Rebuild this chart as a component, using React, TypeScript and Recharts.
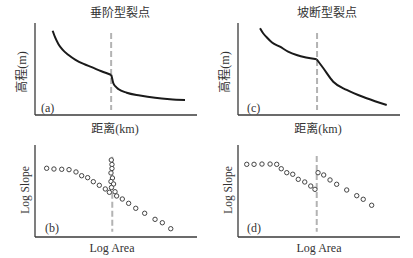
import React from "react";
import {
    ComposedChart,
    Line,
    Scatter,
    XAxis,
    YAxis,
    ReferenceLine
} from "recharts";

// Panel (a): long profile with a vertical-step knickpoint
const aUpperX = [10.9, 12.5, 14.5, 17.0, 20.5, 25.0, 30.0, 35.0, 41.0, 47.1];
const aUpperY = [91.6, 84.0, 77.0, 71.0, 65.5, 60.0, 55.5, 52.0, 47.5, 43.5];
const aLowerX = [47.1, 47.7, 48.3, 49.7, 51.4, 56.6, 64.8, 74.1, 83.3, 92.6];
const aLowerY = [43.5, 39.1, 34.8, 31.0, 28.3, 24.2, 21.2, 18.7, 17.2, 16.3];

// Panel (c): long profile with a slope-break knickpoint
const cUpperX = [13.6, 15.4, 17.7, 21.0, 25.9, 30.9, 36.2, 42.0, 48.6];
const cUpperY = [94.2, 89.1, 84.5, 78.8, 74.2, 69.0, 65.2, 62.5, 60.5];
const cLowerX = [48.6, 52.7, 58.8, 67.1, 79.4, 91.8];
const cLowerY = [60.5, 50.8, 36.2, 27.2, 18.2, 10.9];

// Panel (b): slope-area points
const bAreaX = [7.2, 11.7, 16.5, 21.0, 25.3, 28.8, 32.5, 36.0, 39.7, 43.4, 45.9, 49.4, 50.4, 53.9, 57.8, 62.2, 67.7, 74.1, 78.6, 83.8,
    47.1, 47.5, 47.5, 46.9, 47.8, 46.9, 48.5, 47.2];
const bSlopeY = [74.7, 73.9, 73.6, 73.2, 70.7, 66.6, 64.5, 60.1, 56.2, 52.2, 48.6, 49.2, 44.6, 41.3, 36.6, 31.2, 25.8, 19.2, 15.5, 9.0,
    83.7, 78.8, 74.5, 69.6, 64.1, 60.3, 57.6, 53.8];

// Panel (d): slope-area points
const dAreaX = [5.4, 9.9, 14.8, 19.8, 23.9, 26.7, 30.1, 33.8, 37.2, 41.2, 44.9, 47.5,
    49.4, 52.9, 56.8, 60.9, 67.1, 73.3, 77.3, 82.5];
const dSlopeY = [79.0, 79.0, 79.3, 79.3, 79.0, 74.2, 69.9, 68.2, 62.7, 59.8, 55.4, 51.8,
    69.9, 67.4, 62.0, 57.3, 51.1, 44.9, 41.0, 34.5];

const knickA = 47;
const knickB = 47.7;
const knickC = 48.8;
const knickD = 48.6;

const zip = (xs: number[], ys: number[]) => xs.map((x, i) => ({ x, y: ys[i] }));

const axisColor = "#3a3a3a";
const dashColor = "#b3b3b3";
const latin = "'Liberation Serif', 'Noto Sans CJK SC', serif";

const Dot = (props: any) => (
    <circle cx={props.cx} cy={props.cy} r={2.2} fill="#fff" stroke="#444" strokeWidth={1} />
);

function Panel({ left, top, lines, points, knick, dashTop, dashBottom }: any) {
    return (
        <div style={{ position: "absolute", left, top }}>
            <ComposedChart width={210} height={140} margin={{ top: 23, right: 13, bottom: 25, left: 35 }}>
                <XAxis type="number" dataKey="x" domain={[0, 100]} hide />
                <YAxis type="number" dataKey="y" domain={[0, 100]} hide />
                {/* axes drawn as reference lines at the plot edges */}
                <ReferenceLine x={0} stroke={axisColor} strokeWidth={1.3} />
                <ReferenceLine y={0} stroke={axisColor} strokeWidth={1.3} />
                <ReferenceLine segment={[{ x: knick, y: dashTop }, { x: knick, y: dashBottom }]}
                    stroke={dashColor} strokeWidth={2} strokeDasharray="6 3" />
                {lines && lines.map((d: any, i: number) => (
                    <Line key={i} data={d} dataKey="y" type="monotone" stroke="#1a1a1a" strokeWidth={2}
                        dot={false} isAnimationActive={false} />
                ))}
                {points && (
                    <Scatter data={points} dataKey="y" shape={Dot} isAnimationActive={false} />
                )}
            </ComposedChart>
        </div>
    );
}

const txt = (s: string, x: number, y: number, size: number, rotate = false, align = "center") => (
    <div style={{
        position: "absolute", left: x, top: y, fontFamily: latin, fontSize: size, color: "#333",
        whiteSpace: "nowrap", lineHeight: 1,
        transform: align === "center"
            ? `translate(-50%, -50%)${rotate ? " rotate(-90deg)" : ""}`
            : "translate(0, -50%)"
    }}>{s}</div>
);

export default function App() {
    return (
        <div style={{ position: "absolute", left: 0, top: 0, width: 413, height: 258, background: "#fff" }}>
            <Panel left={0} top={0} lines={[zip(aUpperX, aUpperY), zip(aLowerX, aLowerY)]}
                knick={knickA} dashTop={89.1} dashBottom={5.4} />
            <Panel left={203} top={0} lines={[zip(cUpperX, cUpperY), zip(cLowerX, cLowerY)]}
                knick={knickC} dashTop={89.1} dashBottom={5.4} />
            <Panel left={0} top={122} points={zip(bAreaX, bSlopeY)}
                knick={knickB} dashTop={87.3} dashBottom={5.8} />
            <Panel left={203} top={122} points={zip(dAreaX, dSlopeY)}
                knick={knickD} dashTop={88} dashBottom={5.8} />

            {txt("垂阶型裂点", 120, 13, 12)}
            {txt("坡断型裂点", 327, 13, 12)}
            {txt("高程(m)", 22, 72, 12, true)}
            {txt("高程(m)", 225, 72, 12, true)}
            {txt("距离(km)", 115, 129, 12)}
            {txt("距离(km)", 318, 129, 12)}
            {txt("Log Slope", 26, 190, 11.5, true)}
            {txt("Log Slope", 229, 190, 11.5, true)}
            {txt("Log Area", 112, 248, 12)}
            {txt("Log Area", 319, 248, 12)}
            {txt("(a)", 41, 108, 12, false, "left")}
            {txt("(c)", 247, 108, 12, false, "left")}
            {txt("(b)", 45, 228, 12, false, "left")}
            {txt("(d)", 247, 228, 12, false, "left")}
        </div>
    );
}
